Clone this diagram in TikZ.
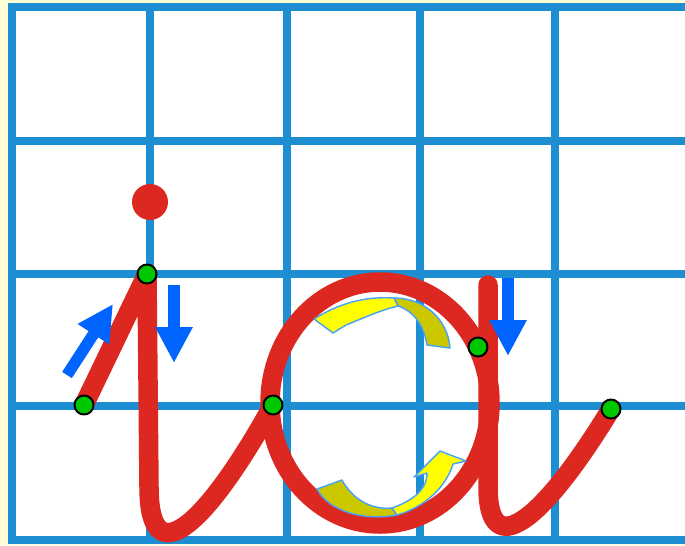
\documentclass[tikz,border=0pt]{standalone}
\usepackage{tikz}
\usetikzlibrary{arrows.meta}
\usepackage{xcolor}
\definecolor{gridblue}{RGB}{30,142,210}
\definecolor{inkred}{RGB}{220,40,32}
\definecolor{hintblue}{RGB}{0,100,255}
\definecolor{turnyellow}{RGB}{255,255,0}
\definecolor{turnolive}{RGB}{204,200,0}
\definecolor{turnedge}{RGB}{70,160,255}
\definecolor{dotgreen}{RGB}{0,200,0}
\definecolor{padyellow}{RGB}{255,252,214}

\begin{document}
\begin{tikzpicture}[x=0.02cm, y=-0.02cm, line join=round,
  ink/.style={draw=inkred, line width=0.39cm, line cap=round},
  hint/.style={draw=hintblue, line width=0.23cm, -{Triangle[width=0.7cm,length=0.72cm]}},
  turn/.style={draw=turnedge, line width=0.8pt},
  stopdot/.style={fill=dotgreen, draw=black, line width=0.04cm}]
\useasboundingbox (0,0) rectangle (685,545);
\fill[padyellow] (0,0) rectangle (685,545);
\fill[white] (12,7) rectangle (685,540);
% squared paper
\foreach \x in {12,150,287,420,555}{ \draw[gridblue, line width=0.16cm] (\x,3) -- (\x,544); }
\foreach \y in {7,141,274,406,540}{ \draw[gridblue, line width=0.16cm] (8,\y) -- (685,\y); }

% stops along the stroke
\coordinate (istart) at (84,405);
\coordinate (itop) at (147,274);
\coordinate (ajoin) at (273,405);
\coordinate (astart) at (478,347);
\coordinate (aend) at (611,409);
\coordinate (bowl) at (380,403);

% letters i and a
\draw[ink] (istart) -- (itop) -- (149,487) .. controls (149,573) and (202,533) .. (ajoin);
\draw[ink] (bowl) ellipse [x radius=110, y radius=121];
\draw[ink] (488,285) -- (488,487) .. controls (488,563) and (541,524) .. (aend);
\node[circle, fill=inkred, minimum size=0.72cm, inner sep=0pt] (idot) at (150,202) {};

% turning arrows inside the bowl
\filldraw[turn, fill=turnolive] (450,348) .. controls (448,320) and (425,298) .. (394,298)
  -- (398,306) .. controls (414,311) and (424,326) .. (427,345) -- cycle;
\filldraw[turn, fill=turnyellow] (394,298) .. controls (364,296) and (338,304) .. (314,319)
  -- (333,333) -- (346,325) .. controls (366,317) and (381,310) .. (398,306) -- cycle;
\filldraw[turn, fill=turnolive] (317,489) .. controls (329,512) and (365,521) .. (397,515)
  -- (392,508) .. controls (372,510) and (353,500) .. (342,480) -- cycle;
\filldraw[turn, fill=turnyellow] (392,508) .. controls (412,501) and (427,490) .. (427,473)
  -- (414,477) -- (440,451) -- (466,461) -- (453,464)
  .. controls (446,487) and (425,507) .. (397,515) -- cycle;

% direction hints
\coordinate (upfrom) at (67,375);
\coordinate (upto) at (113,304);
\coordinate (idownfrom) at (174,285);
\coordinate (idownto) at (174,363);
\coordinate (adownfrom) at (508,278);
\coordinate (adownto) at (508,356);
\draw[hint] (upfrom) -- (upto);
\draw[hint] (idownfrom) -- (idownto);
\draw[hint] (adownfrom) -- (adownto);

\foreach \p in {istart,itop,ajoin,astart,aend}{ \filldraw[stopdot] (\p) circle (9.5); }
\end{tikzpicture}
\end{document}
